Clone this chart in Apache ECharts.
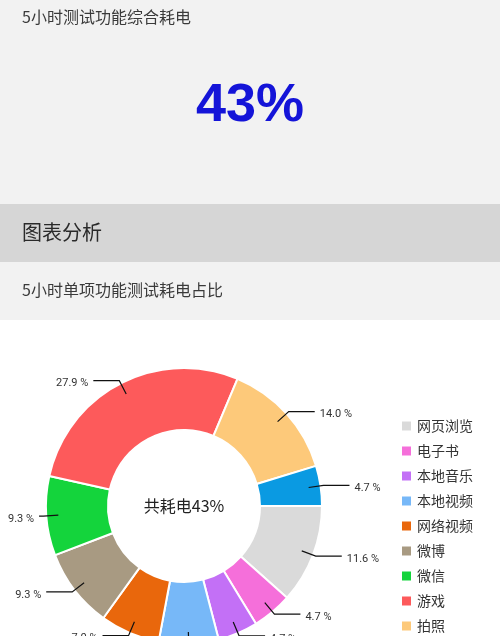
<!DOCTYPE html>
<html>
<head>
<meta charset="utf-8">
<style>
  html, body { margin: 0; padding: 0; background: #fff; overflow: hidden; height: 636px; }
  #main { width: 500px; height: 780px; }
</style>
<script src="https://cdn.jsdelivr.net/npm/echarts@6/dist/echarts.min.js"></script>
</head>
<body>
<div id="main"></div>
<script>
  // 各功能耗电占比 (%)，顺时针从3点钟方向开始
  var names = ['网页浏览', '电子书', '本地音乐', '本地视频', '网络视频', '微博', '微信', '游戏', '拍照', '其他'];
  var values = [11.6, 4.7, 4.7, 7.0, 7.0, 9.3, 9.3, 27.9, 14.0, 4.7];
  var colors = ['#dadada', '#f56fda', '#c370f6', '#77b8f8', '#e9670c', '#a89a82', '#14d43c', '#fd5a5b', '#fdc97a', '#0a9ae2'];
  var totalText = '43%';

  var cjk = '"Noto Sans CJK SC", "Noto Sans", sans-serif';
  var pieCenter = [184, 506];
  var pieRadius = [76, 138];

  var pieData = [];
  for (var i = 0; i < names.length; i++) {
    pieData.push({ name: names[i], value: values[i] });
  }

  var myChart = echarts.init(document.getElementById('main'));

  var option = {
    backgroundColor: '#fff',
    color: colors,
    textStyle: { fontFamily: cjk },
    graphic: [
      // 顶部灰色区块
      { type: 'rect', left: 0, top: 0, shape: { width: 500, height: 204 }, style: { fill: '#f2f2f2' }, silent: true, z: -10 },
      { type: 'rect', left: 0, top: 204, shape: { width: 500, height: 58 }, style: { fill: '#d6d6d6' }, silent: true, z: -10 },
      { type: 'rect', left: 0, top: 262, shape: { width: 500, height: 58 }, style: { fill: '#f2f2f2' }, silent: true, z: -10 },
      { type: 'text', left: 22, top: 9, style: { text: '5小时测试功能综合耗电', fill: '#3a3a3a', font: '16px ' + cjk } },
      { type: 'text', left: 'center', top: 79, style: { text: totalText, fill: '#1414d8', font: 'bold 54px "Liberation Sans", Arial, sans-serif' } },
      { type: 'text', left: 22, top: 222, style: { text: '图表分析', fill: '#2a2a2a', font: '20px ' + cjk } },
      { type: 'text', left: 22, top: 282, style: { text: '5小时单项功能测试耗电占比', fill: '#3a3a3a', font: '16px ' + cjk } },
      { type: 'text', x: pieCenter[0], y: pieCenter[1], style: { text: '共耗电' + totalText, fill: '#222', font: '16px ' + cjk, align: 'center', verticalAlign: 'middle' }, z: 10 }
    ],
    legend: {
      orient: 'vertical',
      left: 395,
      top: 414,
      icon: 'rect',
      itemWidth: 11,
      itemHeight: 11,
      itemGap: 11,
      data: names,
      textStyle: { fontSize: 14, color: '#333', fontFamily: cjk }
    },
    series: [{
      // 环形扇区
      name: '耗电占比',
      type: 'pie',
      center: pieCenter,
      radius: pieRadius,
      startAngle: 0,
      clockwise: true,
      itemStyle: { borderColor: '#fff', borderWidth: 2 },
      label: { show: false },
      labelLine: { show: false },
      emphasis: { disabled: true },
      data: pieData
    }, {
      // 透明覆盖层，只负责标签和引导线（让引导线画在扇区上面）
      name: '标签',
      type: 'pie',
      z: 5,
      silent: true,
      center: pieCenter,
      radius: pieRadius,
      startAngle: 0,
      clockwise: true,
      avoidLabelOverlap: false,
      itemStyle: { color: 'rgba(0,0,0,0)', borderWidth: 0 },
      label: {
        show: true,
        color: '#333',
        fontSize: 11,
        overflow: 'none',
        fontFamily: 'Roboto, "Noto Sans", sans-serif',
        formatter: function (p) { return p.value.toFixed(1) + ' %'; }
      },
      labelLine: {
        show: true,
        length: 3,
        length2: 26,
        lineStyle: { color: '#111', width: 1.2 }
      },
      // 引导线从扇区内部开始，标签超出左边界时缩短横线
      labelLayout: function (p) {
        if (!p.labelLinePoints) return;
        var pts = p.labelLinePoints.map(function (pt) { return pt.slice(); });
        var vx = pts[0][0] - pieCenter[0], vy = pts[0][1] - pieCenter[1];
        var len = Math.sqrt(vx * vx + vy * vy);
        pts[0][0] -= vx / len * 12;
        pts[0][1] -= vy / len * 12;
        var dx = 0;
        if (p.labelRect.x < 8) {
          dx = 8 - p.labelRect.x;
          pts[2][0] += dx;
        }
        return { dx: dx, dy: 3, labelLinePoints: pts };
      },
      emphasis: { disabled: true },
      data: pieData
    }]
  };

  myChart.setOption(option);
</script>
</body>
</html>
